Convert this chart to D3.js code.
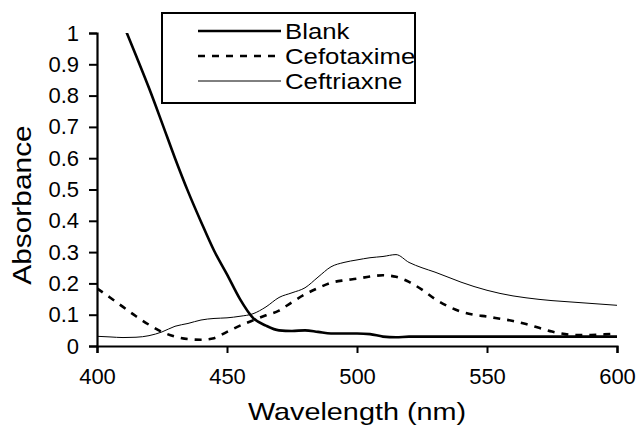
<!DOCTYPE html>
<html>
<head>
<meta charset="utf-8">
<script src="https://cdn.jsdelivr.net/npm/d3@7"></script>
<style>
  body { margin: 0; background: #fff; }
  text { font-family: "Liberation Sans", Arial, sans-serif; fill: #000; }
</style>
</head>
<body>
<div id="chart"></div>
<script>
// wavelength grid (nm)
const wavelengths = d3.range(400, 601, 5);

// absorbance, one value per wavelength
const blank = [null, null, 1.03, 0.928, 0.824, 0.713, 0.60, 0.494, 0.397, 0.305, 0.229, 0.15, 0.09,
  0.065, 0.05, 0.048, 0.05, 0.045, 0.04, 0.04, 0.04, 0.038, 0.03, 0.028, 0.03, 0.03, 0.03, 0.03,
  0.03, 0.03, 0.03, 0.03, 0.03, 0.03, 0.03, 0.03, 0.03, 0.03, 0.03, 0.03, 0.03];
const cefotaxime = [0.184, 0.155, 0.125, 0.095, 0.068, 0.045, 0.03, 0.022, 0.02, 0.025, 0.045, 0.065,
  0.082, 0.098, 0.113, 0.14, 0.165, 0.185, 0.202, 0.21, 0.215, 0.222, 0.226, 0.221, 0.205, 0.18,
  0.15, 0.127, 0.11, 0.1, 0.094, 0.087, 0.08, 0.07, 0.058, 0.046, 0.038, 0.035, 0.035, 0.037, 0.04];
const ceftriaxne = [0.031, 0.029, 0.027, 0.028, 0.033, 0.045, 0.063, 0.072, 0.083, 0.088, 0.09, 0.095,
  0.103, 0.125, 0.155, 0.17, 0.186, 0.22, 0.253, 0.267, 0.275, 0.282, 0.286, 0.292, 0.267, 0.25,
  0.236, 0.22, 0.204, 0.19, 0.178, 0.168, 0.16, 0.154, 0.149, 0.145, 0.142, 0.139, 0.136, 0.133, 0.13];

const xTicks = [400, 450, 500, 550, 600];
const yTicks = [0, 0.1, 0.2, 0.3, 0.4, 0.5, 0.6, 0.7, 0.8, 0.9, 1];

const seriesNames = ["Blank", "Cefotaxime", "Ceftriaxne"];

// set the dimensions and margins of the graph
const width = 637, height = 432;
const margin = { top: 33, right: 20, bottom: 86, left: 97 };

const svg = d3.select("#chart")
  .append("svg")
  .attr("width", width)
  .attr("height", height);

const x = d3.scaleLinear()
  .domain([400, 600])
  .range([margin.left, width - margin.right]);

const y = d3.scaleLinear()
  .domain([0, 1])
  .range([height - margin.bottom, margin.top]);

// clip so the blank curve stops at the top of the plot
svg.append("clipPath")
  .attr("id", "plotclip")
  .append("rect")
  .attr("x", margin.left)
  .attr("y", margin.top)
  .attr("width", width - margin.left - margin.right)
  .attr("height", height - margin.top - margin.bottom);

const series = [
  { name: seriesNames[0], values: blank, width: 2.6, dash: null },
  { name: seriesNames[1], values: cefotaxime, width: 2.6, dash: "7,7" },
  { name: seriesNames[2], values: ceftriaxne, width: 1, dash: null }
];

const line = d3.line()
  .defined(d => d[1] !== null)
  .x(d => x(d[0]))
  .y(d => y(d[1]))
  .curve(d3.curveMonotoneX);

svg.append("g")
  .attr("clip-path", "url(#plotclip)")
  .selectAll("path")
  .data(series)
  .enter()
  .append("path")
  .attr("d", s => line(wavelengths.map((w, i) => [w, s.values[i]])))
  .attr("fill", "none")
  .attr("stroke", "#000")
  .attr("stroke-width", s => s.width)
  .attr("stroke-dasharray", s => s.dash);

// X axis
const xAxis = svg.append("g")
  .attr("transform", `translate(0, ${y(0)})`)
  .call(d3.axisBottom(x).tickValues(xTicks).tickSize(7).tickPadding(15));
xAxis.select(".domain").attr("stroke-width", 2.2);
xAxis.selectAll(".tick line").attr("stroke-width", 2);
xAxis.selectAll("text")
  .style("font-size", "22px")
  .style("font-family", "Liberation Sans, Arial, sans-serif");

// Y axis
const yAxis = svg.append("g")
  .attr("transform", `translate(${x(400)}, 0)`)
  .call(d3.axisLeft(y).tickValues(yTicks).tickSize(8).tickPadding(10).tickFormat(d3.format("")));
yAxis.select(".domain").attr("stroke-width", 2.2);
yAxis.selectAll(".tick line").attr("stroke-width", 2);
yAxis.selectAll("text")
  .style("font-size", "22px")
  .style("font-family", "Liberation Sans, Arial, sans-serif");

// axis titles (the source text is a little wider than Arial, hence the stretch)
svg.append("text")
  .attr("transform", "translate(357, 420) scale(1.2, 1)")
  .attr("text-anchor", "middle")
  .style("font-size", "24px")
  .text("Wavelength (nm)");

svg.append("text")
  .attr("transform", "translate(31, 205) rotate(-90) scale(1.15, 1)")
  .attr("text-anchor", "middle")
  .style("font-size", "26px")
  .text("Absorbance");

// legend
const legend = svg.append("g");
legend.append("rect")
  .attr("x", 162)
  .attr("y", 13)
  .attr("width", 253)
  .attr("height", 90)
  .attr("fill", "#fff")
  .attr("stroke", "#000")
  .attr("stroke-width", 2);

const rows = legend.selectAll("g.row")
  .data(series)
  .enter()
  .append("g")
  .attr("class", "row")
  .attr("transform", (d, i) => `translate(0, ${31 + i * 25})`);

rows.append("line")
  .attr("x1", 198)
  .attr("x2", 281)
  .attr("stroke", "#000")
  .attr("stroke-width", d => d.width)
  .attr("stroke-dasharray", d => d.dash);

rows.append("text")
  .attr("transform", "translate(285, 0) scale(1.12, 1)")
  .attr("dy", "0.36em")
  .style("font-size", "23px")
  .text(d => d.name);
</script>
</body>
</html>
